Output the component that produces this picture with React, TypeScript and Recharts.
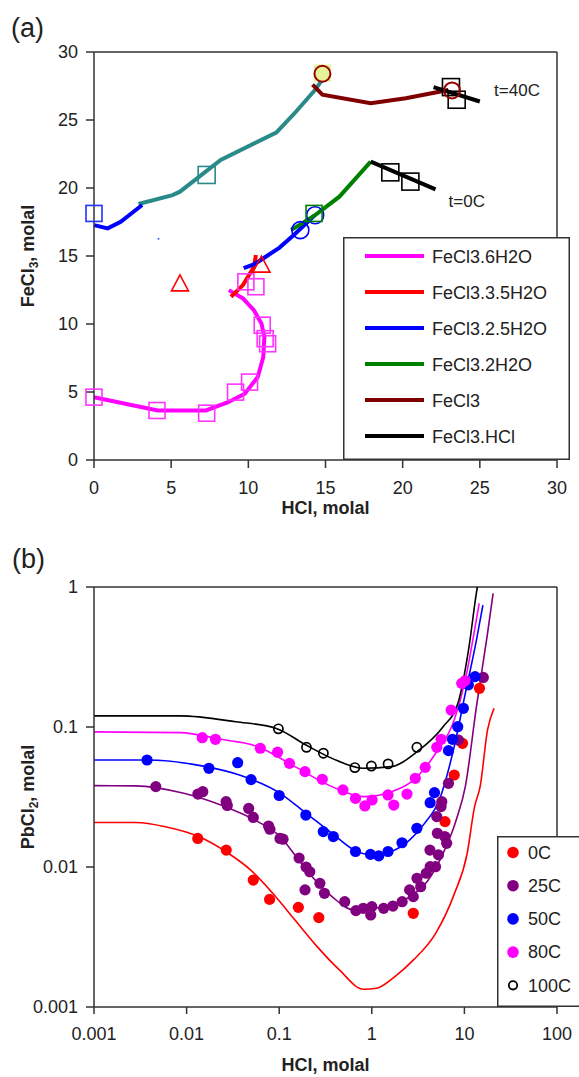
import React from 'react';
import { ComposedChart, Line, Scatter, XAxis, YAxis, ReferenceLine, ReferenceDot, Label, Legend } from 'recharts';

const FONT = "'Liberation Sans', Arial, Helvetica, sans-serif";

// ---------- panel (a): [HCl, FeCl3] molal ----------
const magentaLine = [[0, 4.62], [4.13, 3.64], [7.25, 3.64], [8.69, 4.25], [9.77, 4.87], [10.61, 6.1], [10.97, 7.57], [11.04, 9.05], [10.85, 10.03], [10.37, 11.0], [9.65, 11.88], [8.74, 12.49]];
const magentaSquares = [[0, 4.62], [4.08, 3.64], [7.3, 3.44], [9.17, 4.99], [10.08, 5.73], [10.9, 9.91], [11.09, 8.92], [11.25, 8.55], [9.84, 13.1], [10.49, 12.74]];
const redLine = [[8.88, 12.0], [9.65, 12.86], [10.37, 14.2], [10.49, 15.07]];
const redTriangles = [[5.57, 12.95], [10.85, 14.33]];
const blueLine0 = [[9.7, 14.1], [10.4, 14.4], [11.2, 15.0], [12.0, 15.6], [13.0, 16.6], [14.3, 18.0]];
const blueLine40 = [[0, 17.27], [0.89, 17.03], [1.73, 17.52], [3.12, 18.75]];
const blueSquares = [[0, 18.13]];
const blueCircles = [[13.37, 16.9], [14.33, 18.0]];
const blueDot = [[4.18, 16.27]];
const greenLine = [[12.77, 16.9], [14.33, 18.0], [15.9, 19.36], [17.93, 21.94]];
const greenSquares = [[14.26, 18.13]];
const blackLine0 = [[17.93, 21.94], [22.13, 19.9]];
const blackSquares0 = [[19.2, 21.15], [20.5, 20.47]];
const tealLine = [[2.88, 18.82], [5.09, 19.48], [5.57, 19.73], [8.21, 22.06], [11.81, 24.08], [13.0, 25.5], [14.33, 27.22], [15.05, 28.4]];
const tealSquares = [[7.3, 20.96]];
const yellowSquares = [[14.8, 28.45]];
const darkRedLine = [[14.16, 27.6], [14.8, 26.86], [17.93, 26.24], [20.2, 26.6], [22.96, 27.2]];
const darkRedCircles = [[14.8, 28.4], [23.2, 27.17]];
const blackLine40 = [[22.0, 27.42], [25.0, 26.36]];
const blackSquares40 = [[23.13, 27.42], [23.5, 26.49]];

const ticksA = [0, 5, 10, 15, 20, 25, 30];

const legendA = [
  { name: 'FeCl3.6H2O', color: '#ff00ff' },
  { name: 'FeCl3.3.5H2O', color: '#ff0000' },
  { name: 'FeCl3.2.5H2O', color: '#0000ff' },
  { name: 'FeCl3.2H2O', color: '#008000' },
  { name: 'FeCl3', color: '#800000' },
  { name: 'FeCl3.HCl', color: '#000000' },
];

// ---------- panel (b): [HCl, PbCl2] molal ----------
const line0C = [[0.001, 0.0208], [0.00282, 0.0208], [0.00589, 0.0194], [0.0135, 0.0165], [0.0282, 0.01253], [0.049, 0.00953], [0.0851, 0.00649], [0.148, 0.00418], [0.257, 0.0027], [0.447, 0.00184], [0.813, 0.00134], [1.122, 0.00136], [1.778, 0.00165], [2.818, 0.00217], [4.898, 0.00336], [7.762, 0.0064], [10.72, 0.01253], [12.88, 0.027], [14.79, 0.0375], [17.78, 0.0953], [20.89, 0.1358]];
const line25C = [[0.001, 0.0381], [0.00282, 0.038], [0.00933, 0.0336], [0.0234, 0.0277], [0.0589, 0.0211], [0.1023, 0.0165], [0.148, 0.0122], [0.2344, 0.0083], [0.372, 0.00614], [0.646, 0.00493], [1.023, 0.00507], [1.622, 0.00526], [2.57, 0.00614], [4.074, 0.00807], [5.888, 0.0125], [8.128, 0.0215], [10.23, 0.0375], [13.49, 0.1396], [17.78, 0.4667], [20.42, 0.9016]];
const line50C = [[0.001, 0.0581], [0.00372, 0.0581], [0.0162, 0.0521], [0.0372, 0.0454], [0.1023, 0.0336], [0.195, 0.0242], [0.372, 0.0174], [0.646, 0.0132], [1.023, 0.0122], [1.622, 0.0129], [2.57, 0.0156], [3.715, 0.0205], [5.37, 0.0302], [7.762, 0.0724], [10.23, 0.1738], [13.49, 0.418], [15.85, 0.743]];
const line80C = [[0.001, 0.0923], [0.0085, 0.0912], [0.0234, 0.0817], [0.0589, 0.0724], [0.148, 0.0521], [0.372, 0.0375], [0.813, 0.0318], [1.622, 0.0345], [2.818, 0.0418], [4.898, 0.0649], [7.762, 0.112], [10.23, 0.217], [12.88, 0.493], [14.45, 0.764]];
const line100C = [[0.001, 0.12], [0.0085, 0.12], [0.0339, 0.109], [0.0933, 0.0977], [0.195, 0.0743], [0.372, 0.0597], [0.813, 0.0507], [1.622, 0.0521], [3.09, 0.0667], [5.89, 0.1005], [8.51, 0.1476], [11.22, 0.375], [13.49, 0.912], [13.8, 1.0]];

const pts0C = [[0.0132, 0.016], [0.0268, 0.0132], [0.0525, 0.00807], [0.0787, 0.00587], [0.161, 0.00515], [0.268, 0.00435], [2.805, 0.00467], [6.17, 0.0211], [7.76, 0.0454], [9.55, 0.0764], [14.55, 0.189]];
const pts25C = [[0.00465, 0.0375], [0.01324, 0.0332], [0.01496, 0.0345], [0.0267, 0.0293], [0.0275, 0.0275], [0.0468, 0.0262], [0.0525, 0.0226], [0.0767, 0.0196], [0.0794, 0.0186], [0.102, 0.016], [0.11, 0.0158], [0.164, 0.0116], [0.195, 0.01], [0.214, 0.00925], [0.19, 0.00686], [0.275, 0.00764], [0.308, 0.00649], [0.51, 0.00565], [0.673, 0.00488], [0.809, 0.00507], [0.973, 0.00454], [1.0, 0.00521], [1.343, 0.00507], [1.69, 0.00526], [2.128, 0.00565], [2.559, 0.00686], [2.805, 0.00614], [3.076, 0.0083], [3.373, 0.00723], [3.873, 0.00902], [4.266, 0.01005], [4.875, 0.01005], [4.246, 0.0132], [5.248, 0.0122], [5.105, 0.0174], [6.138, 0.0165], [6.427, 0.01476], [5.035, 0.0229], [5.702, 0.0293], [5.598, 0.027], [6.73, 0.0396], [8.61, 0.0807], [16.0, 0.226]];
const pts50C = [[0.00374, 0.0581], [0.0174, 0.0507], [0.0356, 0.0556], [0.0497, 0.0421], [0.1, 0.0324], [0.194, 0.0235], [0.299, 0.0179], [0.384, 0.0165], [0.667, 0.0129], [0.968, 0.0123], [1.189, 0.012], [1.496, 0.0129], [2.118, 0.0149], [3.069, 0.0189], [4.266, 0.0288], [4.753, 0.034], [6.73, 0.0678], [7.43, 0.0817], [8.47, 0.1005], [9.75, 0.136], [11.04, 0.2], [13.03, 0.229]];
const pts80C = [[0.01476, 0.0839], [0.0205, 0.0817], [0.0625, 0.0705], [0.096, 0.0661], [0.129, 0.055], [0.19, 0.048], [0.292, 0.0423], [0.488, 0.0355], [0.667, 0.0309], [0.841, 0.0273], [1.007, 0.0301], [1.496, 0.0327], [1.726, 0.0277], [2.399, 0.0332], [2.951, 0.043], [3.776, 0.0515], [5.035, 0.0716], [5.61, 0.0817], [7.19, 0.132], [9.35, 0.205], [10.16, 0.214]];
const pts100C = [[0.098, 0.097], [0.197, 0.0716], [0.3, 0.065], [0.656, 0.0513], [0.99, 0.0526], [1.5, 0.0545], [3.07, 0.0716]];

const ticksBX = [0.001, 0.01, 0.1, 1, 10, 100];
const ticksBY = [0.001, 0.01, 0.1, 1];

const legendB = [
  { name: '0C', color: '#ff0000', open: false },
  { name: '25C', color: '#800080', open: false },
  { name: '50C', color: '#0000ff', open: false },
  { name: '80C', color: '#ff00ff', open: false },
  { name: '100C', color: '#000000', open: true },
];

const toXY = (arr: number[][]) => arr.map(([x, y]) => ({ x, y }));

const AXIS = '#333';
const tickStyle = { fill: '#222', fontSize: 18, fontFamily: FONT };

const openSquare = (color: string, s = 16) => (p: any) => (
  <rect x={p.cx - s / 2} y={p.cy - s / 2} width={s} height={s} fill="none" stroke={color} strokeWidth={1.6} />
);
const filledSquare = (color: string, s = 16) => (p: any) => (
  <rect x={p.cx - s / 2} y={p.cy - s / 2} width={s} height={s} fill={color} stroke="none" />
);
const openCircle = (color: string, r: number, w = 1.8) => (p: any) => (
  <circle cx={p.cx} cy={p.cy} r={r} fill="none" stroke={color} strokeWidth={w} />
);
const dot = (color: string, r: number) => (p: any) => <circle cx={p.cx} cy={p.cy} r={r} fill={color} />;
const openTriangle = (color: string) => (p: any) => (
  <polygon points={`${p.cx},${p.cy - 9} ${p.cx - 8.5},${p.cy + 7} ${p.cx + 8.5},${p.cy + 7}`} fill="none" stroke={color} strokeWidth={1.6} />
);

const xTitle = (text: string, dy: number) => (props: any) => {
  const vb = props.viewBox;
  return (
    <text x={vb.x + vb.width / 2} y={vb.y + dy} textAnchor="middle" fontFamily={FONT} fontWeight="bold" fontSize={18} fill="#222">
      {text}
    </text>
  );
};

const yTitle = (main: string, sub: string) => (props: any) => {
  const vb = props.viewBox;
  const cx = 34;
  const cy = vb.y + vb.height / 2;
  return (
    <text x={cx} y={cy} transform={`rotate(-90 ${cx} ${cy})`} textAnchor="middle" fontFamily={FONT} fontWeight="bold" fontSize={18} fill="#222">
      {main}
      <tspan fontSize={12} dy={4}>{sub}</tspan>
      <tspan dy={-4}>, molal</tspan>
    </text>
  );
};

const LegendBoxA = () => (
  <svg width={227} height={223} style={{ display: 'block' }}>
    <rect x={0.75} y={0.75} width={225.5} height={221.5} fill="#fff" stroke={AXIS} strokeWidth={1.5} />
    {legendA.map((d, i) => (
      <g key={d.name}>
        <line x1={22} x2={81} y1={19 + i * 36} y2={19 + i * 36} stroke={d.color} strokeWidth={4} />
        <text x={89} y={19 + i * 36 + 6.5} fontFamily={FONT} fontSize={18} fill="#222">{d.name}</text>
      </g>
    ))}
  </svg>
);

const LegendBoxB = () => (
  <svg width={90} height={171} style={{ display: 'block' }}>
    <rect x={0.75} y={0.75} width={100} height={169.5} fill="#fff" stroke={AXIS} strokeWidth={1.5} />
    {legendB.map((d, i) => {
      const y = 16.5 + i * 33.2;
      return (
        <g key={d.name}>
          {d.open ? (
            <circle cx={16} cy={y} r={4.2} fill="none" stroke={d.color} strokeWidth={1.8} />
          ) : (
            <circle cx={16} cy={y} r={5.8} fill={d.color} />
          )}
          <text x={31} y={y + 6.2} fontFamily={FONT} fontSize={18} fill="#222">{d.name}</text>
        </g>
      );
    })}
  </svg>
);

const PanelA = () => (
  <ComposedChart width={579} height={540} margin={{ top: 52, right: 22, bottom: 0, left: 0 }}>
    <XAxis type="number" dataKey="x" domain={[0, 30]} ticks={ticksA} height={80} tick={tickStyle} tickSize={8} tickMargin={13}
      stroke={AXIS} strokeWidth={1.5}>
      <Label content={xTitle('HCl, molal', 54)} />
    </XAxis>
    <YAxis type="number" dataKey="y" domain={[0, 30]} ticks={ticksA} width={94} tick={tickStyle} tickSize={8} tickMargin={8}
      stroke={AXIS} strokeWidth={1.5}>
      <Label content={yTitle('FeCl', '3')} />
    </YAxis>
    <ReferenceLine y={30} stroke={AXIS} strokeWidth={1.5} />
    <ReferenceLine x={30} stroke={AXIS} strokeWidth={1.5} />

    <Line data={toXY(tealLine)} dataKey="y" stroke="#2a8a8a" strokeWidth={4} dot={false} type="linear" isAnimationActive={false} />
    <Line data={toXY(blueLine40)} dataKey="y" stroke="#0000ff" strokeWidth={4} dot={false} type="linear" isAnimationActive={false} />
    <Line data={toXY(magentaLine)} dataKey="y" stroke="#ff00ff" strokeWidth={4} dot={false} type="linear" isAnimationActive={false} />
    <Line data={toXY(redLine)} dataKey="y" stroke="#ff0000" strokeWidth={4} dot={false} type="linear" isAnimationActive={false} />
    <Line data={toXY(blueLine0)} dataKey="y" stroke="#0000ff" strokeWidth={4} dot={false} type="linear" isAnimationActive={false} />
    <Line data={toXY(greenLine)} dataKey="y" stroke="#008000" strokeWidth={4} dot={false} type="linear" isAnimationActive={false} />
    <Line data={toXY(blackLine0)} dataKey="y" stroke="#000000" strokeWidth={4} dot={false} type="linear" isAnimationActive={false} />
    <Line data={toXY(darkRedLine)} dataKey="y" stroke="#800000" strokeWidth={4} dot={false} type="linear" isAnimationActive={false} />
    <Line data={toXY(blackLine40)} dataKey="y" stroke="#000000" strokeWidth={4} dot={false} type="linear" isAnimationActive={false} />

    <Scatter data={toXY(magentaSquares)} shape={openSquare('#ff33ff')} isAnimationActive={false} />
    <Scatter data={toXY(redTriangles)} shape={openTriangle('#ff0000')} isAnimationActive={false} />
    <Scatter data={toXY(blueSquares)} shape={openSquare('#2233ff')} isAnimationActive={false} />
    <Scatter data={toXY(blueCircles)} shape={openCircle('#0000ff', 8.5, 1.6)} isAnimationActive={false} />
    <Scatter data={toXY(blueDot)} shape={dot('#3355ff', 1)} isAnimationActive={false} />
    <Scatter data={toXY(greenSquares)} shape={openSquare('#008000')} isAnimationActive={false} />
    <Scatter data={toXY(tealSquares)} shape={openSquare('#2a8a8a', 17)} isAnimationActive={false} />
    <Scatter data={toXY(yellowSquares)} shape={filledSquare('#e6f29a', 17)} isAnimationActive={false} />
    <Scatter data={toXY(blackSquares0)} shape={openSquare('#000000', 17)} isAnimationActive={false} />
    <Scatter data={toXY(blackSquares40)} shape={openSquare('#000000', 17)} isAnimationActive={false} />
    <Scatter data={toXY(darkRedCircles)} shape={openCircle('#990000', 8, 2)} isAnimationActive={false} />

    <ReferenceDot x={25.6} y={27.2} r={0} stroke="none"
      label={{ value: 't=40C', position: 'right', fill: '#222', fontSize: 17, fontFamily: FONT }} />
    <ReferenceDot x={22.65} y={19.05} r={0} stroke="none"
      label={{ value: 't=0C', position: 'right', fill: '#222', fontSize: 17, fontFamily: FONT }} />

    <Legend layout="vertical" align="center" verticalAlign="middle"
      wrapperStyle={{ left: 343, top: 237, width: 227, height: 223 }} content={() => <LegendBoxA />} />
  </ComposedChart>
);

const PanelB = () => (
  <ComposedChart width={579} height={537} margin={{ top: 47, right: 22, bottom: 0, left: 0 }}>
    <XAxis type="number" dataKey="x" scale="log" domain={[0.001, 100]} ticks={ticksBX} height={70} tick={tickStyle}
      tickSize={7} tickMargin={13} tickFormatter={(v: number) => String(v)} stroke={AXIS} strokeWidth={1.5}>
      <Label content={xTitle('HCl, molal', 64)} />
    </XAxis>
    <YAxis type="number" dataKey="y" scale="log" domain={[0.001, 1]} ticks={ticksBY} width={94} tick={tickStyle}
      tickSize={8} tickMargin={8} tickFormatter={(v: number) => String(v)} stroke={AXIS} strokeWidth={1.5}>
      <Label content={yTitle('PbCl', '2')} />
    </YAxis>
    <ReferenceLine y={1} stroke={AXIS} strokeWidth={1.5} />
    <ReferenceLine x={100} stroke={AXIS} strokeWidth={1.5} />

    <Line data={toXY(line0C)} dataKey="y" stroke="#ff0000" strokeWidth={1.6} dot={false} type="monotone" isAnimationActive={false} />
    <Line data={toXY(line25C)} dataKey="y" stroke="#800080" strokeWidth={1.6} dot={false} type="monotone" isAnimationActive={false} />
    <Line data={toXY(line50C)} dataKey="y" stroke="#0000ff" strokeWidth={1.6} dot={false} type="monotone" isAnimationActive={false} />
    <Line data={toXY(line80C)} dataKey="y" stroke="#ff00ff" strokeWidth={1.6} dot={false} type="monotone" isAnimationActive={false} />
    <Line data={toXY(line100C)} dataKey="y" stroke="#000000" strokeWidth={1.6} dot={false} type="monotone" isAnimationActive={false} />

    <Scatter data={toXY(pts0C)} shape={dot('#ff0000', 5.6)} isAnimationActive={false} />
    <Scatter data={toXY(pts25C)} shape={dot('#800080', 5.6)} isAnimationActive={false} />
    <Scatter data={toXY(pts50C)} shape={dot('#0000ff', 5.6)} isAnimationActive={false} />
    <Scatter data={toXY(pts80C)} shape={dot('#ff00ff', 5.6)} isAnimationActive={false} />
    <Scatter data={toXY(pts100C)} shape={openCircle('#000000', 4.6, 1.7)} isAnimationActive={false} />

    <Legend layout="vertical" align="center" verticalAlign="middle"
      wrapperStyle={{ left: 497, top: 296, width: 90, height: 171 }} content={() => <LegendBoxB />} />
  </ComposedChart>
);

export default function App() {
  return (
    <div style={{ position: 'absolute', left: 0, top: 0, width: 579, height: 1077, overflow: 'hidden', background: '#fff', fontFamily: FONT }}>
      <div style={{ position: 'absolute', left: 0, top: 0 }}>
        <PanelA />
      </div>
      <div style={{ position: 'absolute', left: 0, top: 540 }}>
        <PanelB />
      </div>
      <svg width={80} height={40} style={{ position: 'absolute', left: 0, top: 8 }}>
        <text x={11} y={29} fontFamily={FONT} fontSize={27} fill="#222">(a)</text>
      </svg>
      <svg width={80} height={40} style={{ position: 'absolute', left: 0, top: 540 }}>
        <text x={12} y={28} fontFamily={FONT} fontSize={27} fill="#222">(b)</text>
      </svg>
    </div>
  );
}
